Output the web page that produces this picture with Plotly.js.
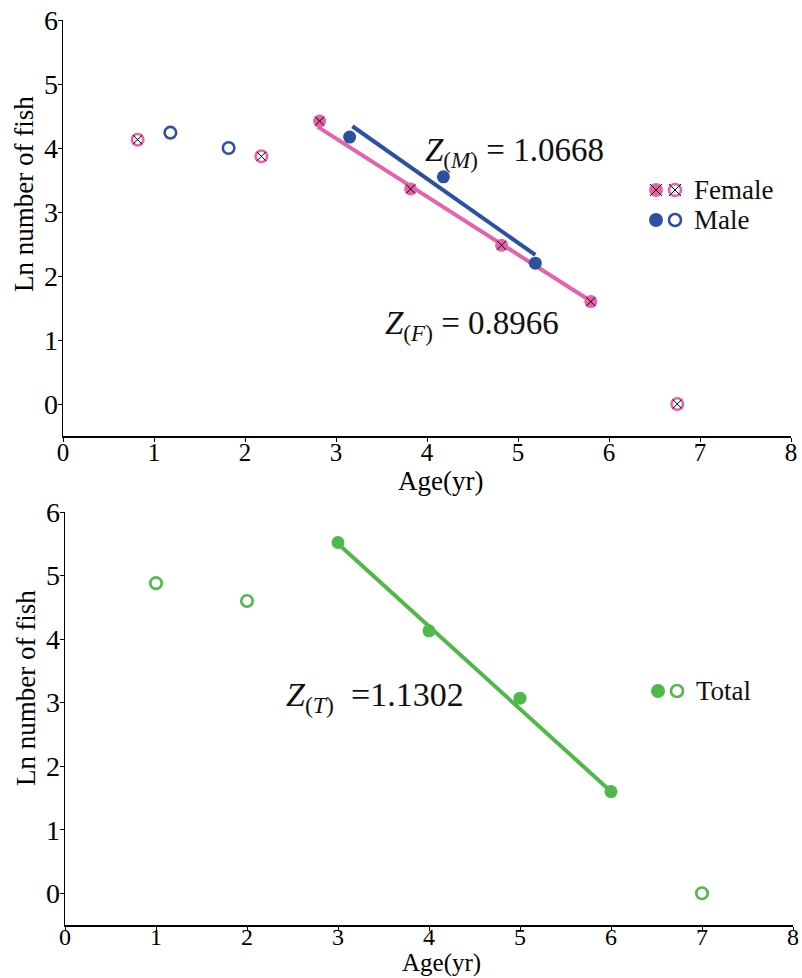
<!DOCTYPE html>
<html>
<head>
<meta charset="utf-8">
<script src="https://cdn.plot.ly/plotly-3.0.1.min.js"></script>
<style>html,body{margin:0;padding:0;background:#fff;}#chart{width:802px;height:978px;}</style>
</head>
<body>
<div id="chart"></div>
<script>
// ---- Data ----
// Top panel: Female
const femaleAgeFilled = [2.82, 3.82, 4.82, 5.80];
const femaleLnFilled  = [4.42, 3.36, 2.48, 1.60];
const femaleAgeOpen   = [0.82, 2.18, 6.75];
const femaleLnOpen    = [4.13, 3.87, 0.00];
const femaleFitAge    = [2.80, 5.82];
const femaleFitLn     = [4.33, 1.59];
// Top panel: Male
const maleAgeFilled = [3.15, 4.18, 5.19];
const maleLnFilled  = [4.17, 3.55, 2.20];
const maleAgeOpen   = [1.18, 1.82];
const maleLnOpen    = [4.24, 4.00];
const maleFitAge    = [3.18, 5.19];
const maleFitLn     = [4.34, 2.33];
// Bottom panel: Total
const totalAgeFilled = [3, 4, 5, 6];
const totalLnFilled  = [5.52, 4.13, 3.07, 1.60];
const totalAgeOpen   = [1, 2, 7];
const totalLnOpen    = [4.88, 4.60, 0.00];
const totalFitAge    = [3, 6];
const totalFitLn     = [5.50, 1.60];
// Labels
const xTickVals = [0, 1, 2, 3, 4, 5, 6, 7, 8];
const yTickVals = [0, 1, 2, 3, 4, 5, 6];
const xTitle = 'Age(yr)';
const yTitle = 'Ln number of fish';
const legendNames = ['Female', 'Male', 'Total'];
const zLabels = ['<i>Z</i><sub>(<i>M</i>)</sub> = 1.0668', '<i>Z</i><sub>(<i>F</i>)</sub> = 0.8966', '<i>Z</i><sub>(<i>T</i>)</sub>  =1.1302'];

// ---- Styles ----
const PINK = '#E662AA', BLUE = '#2D50A2', GREEN = '#4EB848';
const FONT = 'Liberation Serif';
const W = 802, H = 978;
const px = v => v / W, py = v => 1 - v / H;

function filled(x, y, color, xa, ya) {
  return {x: x, y: y, xaxis: xa, yaxis: ya, mode: 'markers', type: 'scatter', showlegend: false, cliponaxis: false,
    marker: {symbol: 'circle', size: 13, color: color, line: {width: 0}}, hoverinfo: 'x+y'};
}
function openM(x, y, color, xa, ya) {
  return {x: x, y: y, xaxis: xa, yaxis: ya, mode: 'markers', type: 'scatter', showlegend: false, cliponaxis: false,
    marker: {symbol: 'circle-open', size: 11.5, color: color, line: {width: 2.6, color: color}}, hoverinfo: 'x+y'};
}
function cross(x, y, xa, ya) {
  return {x: x, y: y, xaxis: xa, yaxis: ya, mode: 'markers', type: 'scatter', showlegend: false, cliponaxis: false,
    marker: {symbol: 'x-thin-open', size: 9, color: '#000', line: {width: 1, color: '#000'}}, hoverinfo: 'skip'};
}
function fit(x, y, color, xa, ya) {
  return {x: x, y: y, xaxis: xa, yaxis: ya, mode: 'lines', type: 'scatter', showlegend: false,
    line: {color: color, width: 4}, hoverinfo: 'skip'};
}

const traces = [
  fit(femaleFitAge, femaleFitLn, PINK, 'x', 'y'),
  fit(maleFitAge, maleFitLn, BLUE, 'x', 'y'),
  filled(femaleAgeFilled, femaleLnFilled, PINK, 'x', 'y'),
  openM(femaleAgeOpen, femaleLnOpen, PINK, 'x', 'y'),
  cross(femaleAgeFilled.concat(femaleAgeOpen), femaleLnFilled.concat(femaleLnOpen), 'x', 'y'),
  filled(maleAgeFilled, maleLnFilled, BLUE, 'x', 'y'),
  openM(maleAgeOpen, maleLnOpen, BLUE, 'x', 'y'),
  fit(totalFitAge, totalFitLn, GREEN, 'x2', 'y2'),
  filled(totalAgeFilled, totalLnFilled, GREEN, 'x2', 'y2'),
  openM(totalAgeOpen, totalLnOpen, GREEN, 'x2', 'y2')
];

function xAxis(domain, anchor, standoff, fsize) {
  return {domain: domain, anchor: anchor, range: [0, 8], tickvals: xTickVals, ticks: 'outside', ticklen: 4,
    tickwidth: 1, tickcolor: '#000', showline: true, linecolor: '#000', linewidth: 2, showgrid: false,
    zeroline: false, tickfont: {family: FONT, size: fsize, color: '#000'}, ticklabelstandoff: standoff,
    fixedrange: true, automargin: false};
}
function yAxis(domain, anchor) {
  return {domain: domain, anchor: anchor, range: [-0.5, 6], tickvals: yTickVals, ticks: 'outside', ticklen: 4,
    tickwidth: 1, tickcolor: '#000', showline: true, linecolor: '#000', linewidth: 1.5, showgrid: false,
    zeroline: false, tickfont: {family: FONT, size: 28, color: '#000'}, ticklabelstandoff: -6,
    fixedrange: true, automargin: false};
}

const annFont = {family: FONT, size: 33, color: '#111'};
const legFont = {family: FONT, size: 27, color: '#111'};
const titleFont = {family: FONT, size: 27, color: '#000'};
const annotations = [
  {xref: 'paper', yref: 'paper', x: px(423), y: py(152), xanchor: 'left', yanchor: 'middle', text: zLabels[0], showarrow: false, font: annFont},
  {xref: 'paper', yref: 'paper', x: px(383), y: py(325), xanchor: 'left', yanchor: 'middle', text: zLabels[1], showarrow: false, font: annFont},
  {xref: 'paper', yref: 'paper', x: px(284), y: py(697), xanchor: 'left', yanchor: 'middle', text: zLabels[2], showarrow: false, font: {family: FONT, size: 34, color: '#111'}},
  {xref: 'paper', yref: 'paper', x: px(692), y: py(190), xanchor: 'left', yanchor: 'middle', text: legendNames[0], showarrow: false, font: legFont},
  {xref: 'paper', yref: 'paper', x: px(692), y: py(220), xanchor: 'left', yanchor: 'middle', text: legendNames[1], showarrow: false, font: legFont},
  {xref: 'paper', yref: 'paper', x: px(694), y: py(691), xanchor: 'left', yanchor: 'middle', text: legendNames[2], showarrow: false, font: legFont},
  {xref: 'paper', yref: 'paper', x: px(24), y: py(194), xanchor: 'center', yanchor: 'middle', textangle: -90, text: yTitle, showarrow: false, font: titleFont},
  {xref: 'paper', yref: 'paper', x: px(26), y: py(688), xanchor: 'center', yanchor: 'middle', textangle: -90, text: yTitle, showarrow: false, font: titleFont},
  {xref: 'paper', yref: 'paper', x: px(440), y: py(481), xanchor: 'center', yanchor: 'middle', text: xTitle, showarrow: false, font: titleFont},
  {xref: 'paper', yref: 'paper', x: px(441), y: py(978), xanchor: 'center', yanchor: 'bottom', text: xTitle, showarrow: false, borderpad: 0, font: {family: FONT, size: 25, color: '#000'}}
];

// Legend glyphs (decoration, in paper space with pixel sizes)
const shapes = [];
function legCircle(cx, cy, color, open) {
  shapes.push({type: 'circle', xref: 'paper', yref: 'paper', xsizemode: 'pixel', ysizemode: 'pixel',
    xanchor: px(cx), yanchor: py(cy), x0: open ? -6 : -7, x1: open ? 6 : 7, y0: open ? -6 : -7, y1: open ? 6 : 7,
    fillcolor: open ? 'rgba(0,0,0,0)' : color, line: {color: color, width: open ? 2.6 : 0}});
}
function legCross(cx, cy) {
  shapes.push({type: 'line', xref: 'paper', yref: 'paper', xsizemode: 'pixel', ysizemode: 'pixel',
    xanchor: px(cx), yanchor: py(cy), x0: -6, x1: 6, y0: -6, y1: 6, line: {color: '#000', width: 1}});
  shapes.push({type: 'line', xref: 'paper', yref: 'paper', xsizemode: 'pixel', ysizemode: 'pixel',
    xanchor: px(cx), yanchor: py(cy), x0: -6, x1: 6, y0: 6, y1: -6, line: {color: '#000', width: 1}});
}
legCircle(656, 190, PINK, false); legCross(656, 190);
legCircle(675, 190, PINK, true); legCross(675, 190);
legCircle(656, 220, BLUE, false);
legCircle(675, 220, BLUE, true);
legCircle(658, 691, GREEN, false);
legCircle(677, 691, GREEN, true);

const layout = {
  width: W, height: H, margin: {l: 0, r: 0, t: 0, b: 0}, paper_bgcolor: '#fff', plot_bgcolor: '#fff',
  showlegend: false,
  font: {family: FONT, color: '#000'},
  xaxis: xAxis([px(63), px(791)], 'y', -11, 25),
  yaxis: yAxis([py(436), py(20)], 'x'),
  xaxis2: xAxis([px(65), px(793)], 'y2', -15, 24),
  yaxis2: yAxis([py(925), py(512)], 'x2'),
  annotations: annotations,
  shapes: shapes
};

Plotly.newPlot('chart', traces, layout, {displayModeBar: false, staticPlot: true});
</script>
</body>
</html>
